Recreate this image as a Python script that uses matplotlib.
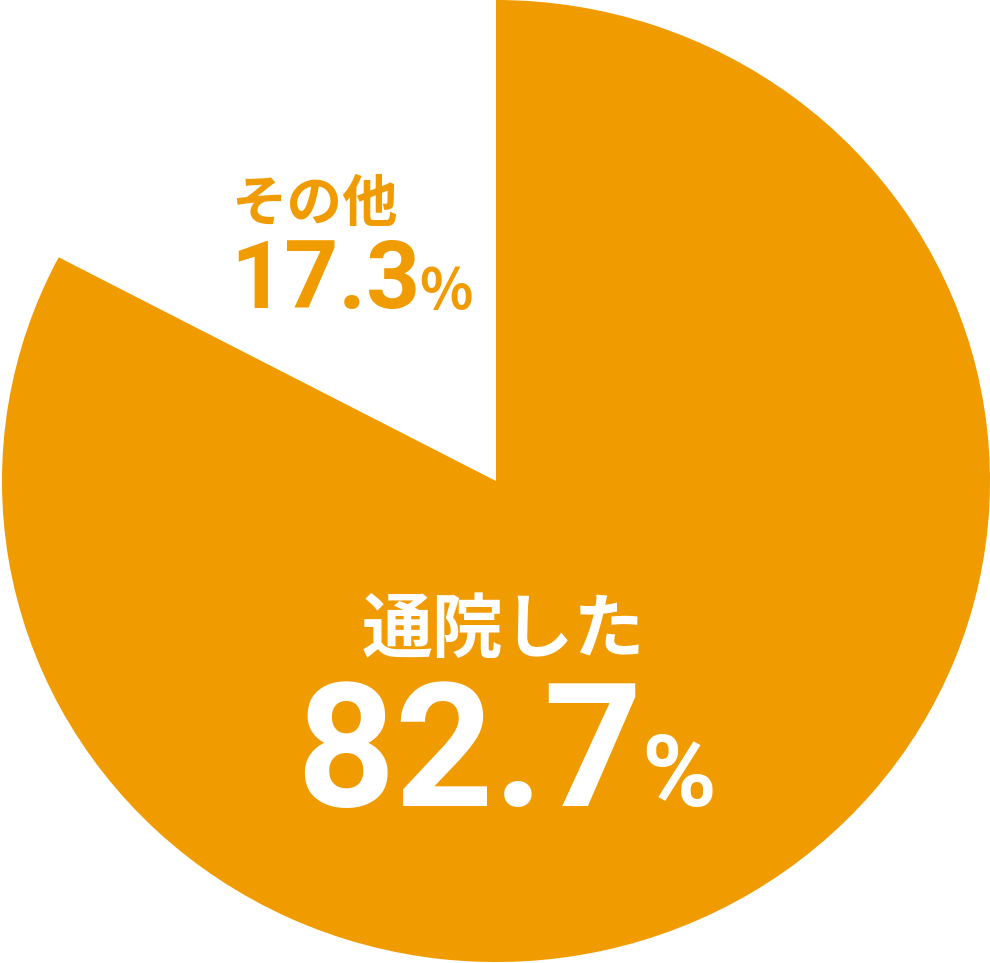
import matplotlib
matplotlib.use('Agg')
import matplotlib.pyplot as plt

labels = ['その他', '通院した']
valores = [17.3, 82.7]
cores = ['white', '#F09B00']
cor_texto = ['#F09B00', 'white']

fig = plt.figure(figsize=(9.9, 9.63), dpi=100)
ax = fig.add_axes([0, 0, 1, 1])
ax.pie(valores, colors=cores, startangle=90, counterclock=True,
       wedgeprops={'linewidth': 0})
ax.set_aspect('auto')
ax.set_xlim(-1.004, 1.0)
ax.set_ylim(-1.002, 1.0)
ax.axis('off')

jp = ['Noto Sans CJK JP', 'DejaVu Sans']
num = ['Roboto', 'DejaVu Sans']

# その他
fig.text(231 / 990, 1 - 221 / 963, labels[0], color=cor_texto[0], fontsize=40,
         fontweight='bold', family=jp, ha='left', va='baseline')
fig.text(230 / 990, 1 - 308 / 963, f'{valores[0]:.1f}', color=cor_texto[0], fontsize=68,
         fontweight='bold', family=num, ha='left', va='baseline')
fig.text(419 / 990, 1 - 308 / 963, '%', color=cor_texto[0], fontsize=40,
         fontweight='bold', family=jp, ha='left', va='baseline')

# 通院した
fig.text(362 / 990, 1 - 652 / 963, labels[1], color=cor_texto[1], fontsize=51,
         fontweight='bold', family=jp, ha='left', va='baseline')
fig.text(296 / 990, 1 - 806 / 963, f'{valores[1]:.1f}', color=cor_texto[1], fontsize=124,
         fontweight='bold', family=num, ha='left', va='baseline')
fig.text(641 / 990, 1 - 806 / 963, '%', color=cor_texto[1], fontsize=73,
         fontweight='bold', family=num, ha='left', va='baseline')

fig.savefig('out.png', dpi=100)
